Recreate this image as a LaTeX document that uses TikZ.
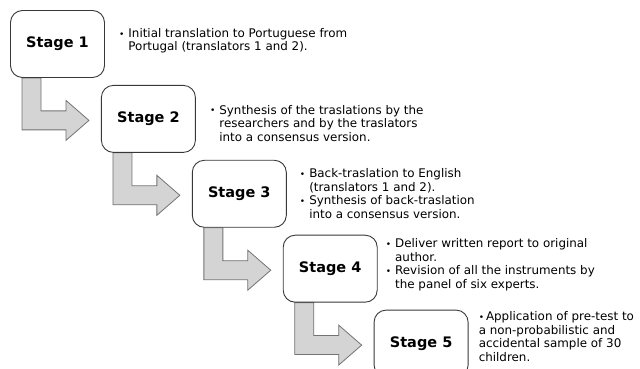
\documentclass[tikz,border=0pt]{standalone}
\usepackage{fontspec}
\setmainfont{DejaVu Sans}
\usetikzlibrary{calc,positioning,backgrounds}

\newcommand{\dotb}{\raisebox{0.3pt}{\fontsize{9}{9}\selectfont •}}

\begin{document}
\begin{tikzpicture}[
	stage/.style={rectangle, rounded corners=12pt, draw=black!78, line width=0.9pt, fill=white, minimum width=94pt, minimum height=67pt, font=\fontsize{14.5}{17}\selectfont\bfseries},
	note/.style={inner sep=0pt, align=left, font=\fontsize{11.9}{13.5}\selectfont},
	elbow/.style={draw=black!55, fill=black!17, line width=0.8pt, line join=miter}
	]
\useasboundingbox (0,0) rectangle (640pt,369pt);

% stages
\node [stage] at (57.5pt,325pt) (s1) {Stage 1};
\node [stage] [below right=7pt and -4pt of s1] (s2) {Stage 2};
\node [stage] [below right=7pt and -4pt of s2] (s3) {Stage 3};
\node [stage] [below right=7pt and -4pt of s3] (s4) {Stage 4};
\node [stage] [below right=7pt and -4pt of s4] (s5) {Stage 5};

% notes
\node [note] [right=14pt of s1, yshift=2.5pt] (n1) {\begin{tabular}{@{}l@{\hspace{4pt}}l@{}}
\dotb & Initial translation to Portuguese from\\
 & Portugal (translators 1 and 2).\end{tabular}};
\node [note] [right=14pt of s2, yshift=-6pt] (n2) {\begin{tabular}{@{}l@{\hspace{4pt}}l@{}}
\dotb & Synthesis of the traslations by the\\
 & researchers and by the traslators\\
 & into a consensus version.\end{tabular}};
\node [note] [right=13pt of s3, yshift=-1.5pt] (n3) {\begin{tabular}{@{}l@{\hspace{4pt}}l@{}}
\dotb & Back-traslation to English\\
 & (translators 1 and 2).\\
\dotb & Synthesis of back-traslation\\
 & into a consensus version.\end{tabular}};
\node [note] [right=8pt of s4, yshift=3.5pt] (n4) {\begin{tabular}{@{}l@{\hspace{4pt}}l@{}}
\dotb & Deliver written report to original\\
 & author.\\
\dotb & Revision of all the instruments by\\
 & the panel of six experts.\end{tabular}};
\node [note] [right=10pt of s5, yshift=7pt] (n5) {\dotb\,Application of pre-test to\\
a non-probabilistic and\\
accidental sample of 30\\
children.};

% arrows
\begin{scope}[on background layer]
\foreach \a/\b in {s1/s2,s2/s3,s3/s4,s4/s5}
  \draw[elbow] ($(\a.south west)+(31pt,0)$) |- ($(\b.west)+(-35pt,8pt)$) -- ++(0,10.5pt) -- ($(\b.west)+(-12pt,-1.5pt)$) -- ($(\b.west)+(-35pt,-21.5pt)$) -- ++(0,10.5pt) -| ($(\a.south west)+(12pt,0)$) -- cycle;
\end{scope}

\end{tikzpicture}
\end{document}
